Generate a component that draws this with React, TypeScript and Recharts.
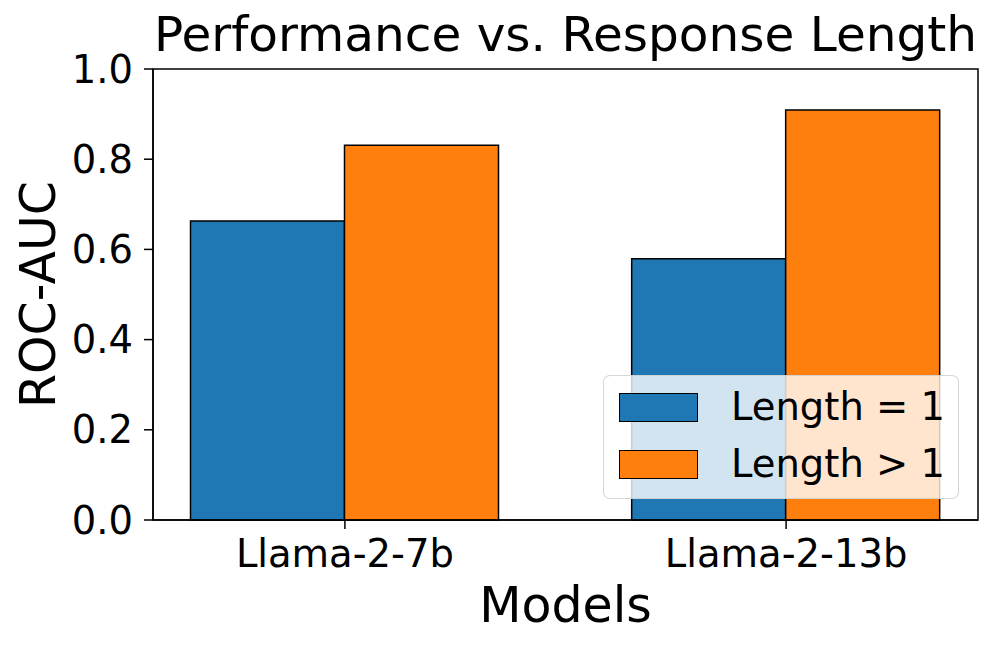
import { BarChart, Bar, XAxis, YAxis, Legend, ReferenceArea } from 'recharts'

const models = ['Llama-2-7b', 'Llama-2-13b']
const lengthOne = [0.663, 0.579]
const lengthMany = [0.831, 0.909]
const yTicks = [0, 0.2, 0.4, 0.6, 0.8, 1.0]
const seriesNames = ['Length = 1', 'Length > 1']

const BLUE = '#1f77b4'
const ORANGE = '#ff7f0e'
const FONT = '"DejaVu Sans", sans-serif'
const X_DOMAIN: [number, number] = [-0.435, 1.435]

const data = models.map((m, i) => ({ pos: i, model: m, one: lengthOne[i], many: lengthMany[i] }))

function LegendBox() {
  const items = [
    { name: seriesNames[0], color: BLUE },
    { name: seriesNames[1], color: ORANGE },
  ]
  return (
    <div style={{
      width: 356, height: 124, boxSizing: 'border-box', paddingTop: 3, paddingLeft: 15,
      background: 'rgba(255,255,255,0.8)', border: '1.5px solid rgba(204,204,204,0.8)',
      borderRadius: 7, fontFamily: FONT, fontSize: 38.5, color: '#000',
    }}>
      {items.map(it => (
        <div key={it.name} style={{ display: 'flex', alignItems: 'center', height: 57 }}>
          <span style={{ width: 79, height: 29, background: it.color, border: '1.5px solid #000', boxSizing: 'border-box', flexShrink: 0 }} />
          <span style={{ marginLeft: 33, lineHeight: 1, whiteSpace: 'nowrap' }}>{it.name}</span>
        </div>
      ))}
    </div>
  )
}

const YLabel = ({ viewBox }: any) => {
  const x = viewBox.x + 55
  const cy = viewBox.y + viewBox.height / 2
  return (
    <text x={x} y={cy} transform={`rotate(-90, ${x}, ${cy})`} textAnchor="middle"
      fontFamily={FONT} fontSize={49} fill="#000">ROC-AUC</text>
  )
}

const XLabel = ({ viewBox }: any) => (
  <text x={viewBox.x + viewBox.width / 2} y={viewBox.y + 102} textAnchor="middle"
    fontFamily={FONT} fontSize={49} fill="#000">Models</text>
)

export default function App() {
  return (
    <div style={{ position: 'absolute', left: 0, top: 0, width: 996, height: 649, background: '#fff' }}>
      <div style={{
        position: 'absolute', left: 153, width: 825, top: 6, textAlign: 'center',
        fontFamily: FONT, fontSize: 48.5, lineHeight: '56px', color: '#000', whiteSpace: 'nowrap',
      }}>
        Performance vs. Response Length
      </div>
      <BarChart width={996} height={649} data={data}
        margin={{ top: 69, right: 18, bottom: 0, left: 0 }}
        barCategoryGap="15%" barGap={0}>
        <XAxis dataKey="pos" type="number" domain={X_DOMAIN} ticks={[0, 1]}
          allowDataOverflow height={129}
          tickFormatter={(v: number) => models[v] ?? ''}
          tick={{ fontSize: 38.5, fill: '#000', fontFamily: FONT }}
          tickSize={9} tickMargin={11}
          axisLine={{ stroke: '#000', strokeWidth: 1.5 }} tickLine={{ stroke: '#000', strokeWidth: 1.5 }}
          label={<XLabel />} />
        <YAxis domain={[0, 1]} ticks={yTicks} width={153}
          tickFormatter={(v: number) => v.toFixed(1)}
          tick={{ fontSize: 38.5, fill: '#000', fontFamily: FONT }}
          tickSize={9} tickMargin={11}
          axisLine={{ stroke: '#000', strokeWidth: 1.5 }} tickLine={{ stroke: '#000', strokeWidth: 1.5 }}
          label={<YLabel />} />
        <Bar dataKey="one" name={seriesNames[0]} fill={BLUE} stroke="#000" strokeWidth={1.5} isAnimationActive={false} />
        <Bar dataKey="many" name={seriesNames[1]} fill={ORANGE} stroke="#000" strokeWidth={1.5} isAnimationActive={false} />
        <ReferenceArea x1={X_DOMAIN[0]} x2={X_DOMAIN[1]} y1={0} y2={1}
          fill="none" fillOpacity={0} stroke="#000" strokeWidth={1.5} ifOverflow="visible" />
        <Legend layout="vertical" align="center" verticalAlign="middle"
          wrapperStyle={{ position: 'absolute', left: 603, top: 375, width: 356, height: 124 }}
          content={<LegendBox />} />
      </BarChart>
    </div>
  )
}
